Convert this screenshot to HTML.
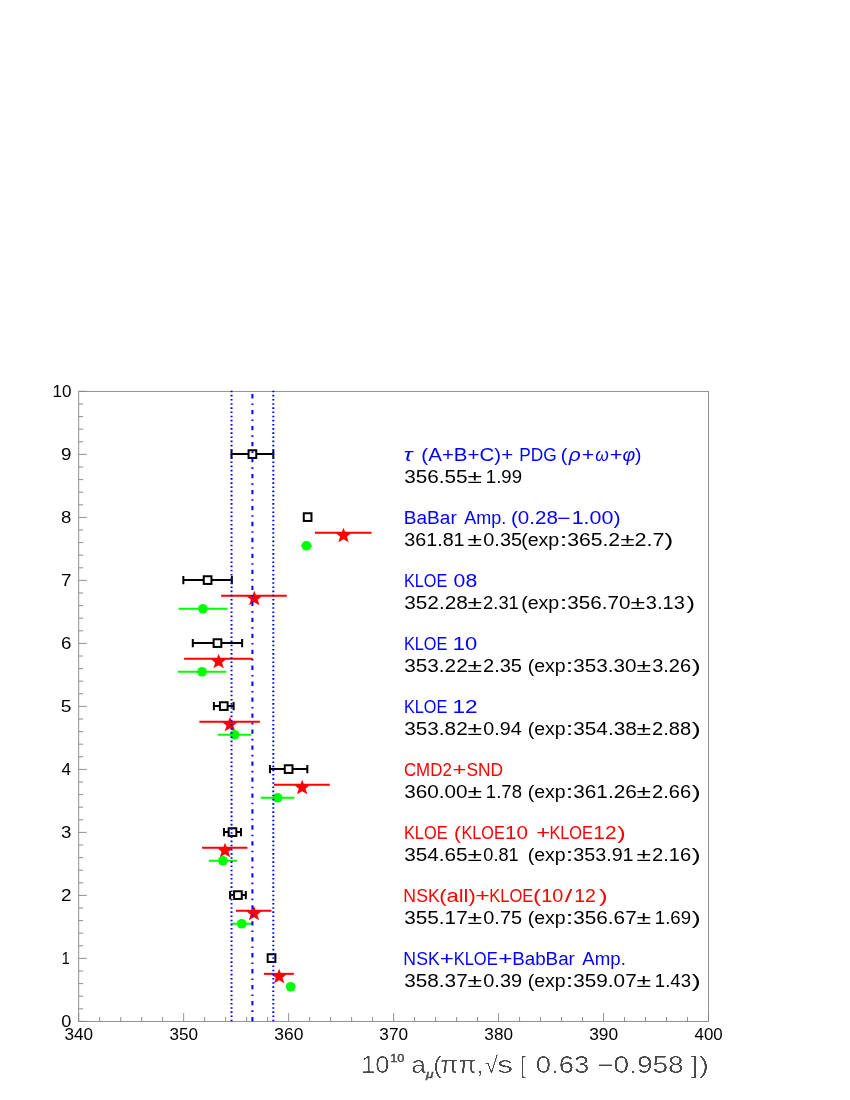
<!DOCTYPE html>
<html><head><meta charset="utf-8"><title>chart</title>
<style>html,body{margin:0;padding:0;background:#fff}svg{display:block;will-change:transform}text{font-family:"Liberation Sans",sans-serif}</style></head><body>
<svg width="850" height="1100" viewBox="0 0 850 1100">
<rect x="0" y="0" width="850" height="1100" fill="#fff"/>
<defs><filter id="thin" x="-5%" y="-20%" width="110%" height="140%"><feGaussianBlur stdDeviation="0.45"/><feComponentTransfer><feFuncA type="linear" slope="3.2" intercept="-1.75"/></feComponentTransfer></filter></defs>
<g stroke="#848484" stroke-width="0.9" fill="none">
<rect x="78.7" y="391.4" width="629.80" height="630.00"/>
<path d="M78.70 1021.4v-8.3 M99.69 1021.4v-4.4 M120.69 1021.4v-4.4 M141.68 1021.4v-4.4 M162.67 1021.4v-4.4 M183.67 1021.4v-8.3 M204.66 1021.4v-4.4 M225.65 1021.4v-4.4 M246.65 1021.4v-4.4 M267.64 1021.4v-4.4 M288.63 1021.4v-8.3 M309.63 1021.4v-4.4 M330.62 1021.4v-4.4 M351.61 1021.4v-4.4 M372.61 1021.4v-4.4 M393.60 1021.4v-8.3 M414.59 1021.4v-4.4 M435.59 1021.4v-4.4 M456.58 1021.4v-4.4 M477.57 1021.4v-4.4 M498.57 1021.4v-8.3 M519.56 1021.4v-4.4 M540.55 1021.4v-4.4 M561.55 1021.4v-4.4 M582.54 1021.4v-4.4 M603.53 1021.4v-8.3 M624.53 1021.4v-4.4 M645.52 1021.4v-4.4 M666.51 1021.4v-4.4 M687.51 1021.4v-4.4 M708.50 1021.4v-8.3 M78.7 1021.40h8.0 M78.7 1008.80h4.4 M78.7 996.20h4.4 M78.7 983.60h4.4 M78.7 971.00h4.4 M78.7 958.40h8.0 M78.7 945.80h4.4 M78.7 933.20h4.4 M78.7 920.60h4.4 M78.7 908.00h4.4 M78.7 895.40h8.0 M78.7 882.80h4.4 M78.7 870.20h4.4 M78.7 857.60h4.4 M78.7 845.00h4.4 M78.7 832.40h8.0 M78.7 819.80h4.4 M78.7 807.20h4.4 M78.7 794.60h4.4 M78.7 782.00h4.4 M78.7 769.40h8.0 M78.7 756.80h4.4 M78.7 744.20h4.4 M78.7 731.60h4.4 M78.7 719.00h4.4 M78.7 706.40h8.0 M78.7 693.80h4.4 M78.7 681.20h4.4 M78.7 668.60h4.4 M78.7 656.00h4.4 M78.7 643.40h8.0 M78.7 630.80h4.4 M78.7 618.20h4.4 M78.7 605.60h4.4 M78.7 593.00h4.4 M78.7 580.40h8.0 M78.7 567.80h4.4 M78.7 555.20h4.4 M78.7 542.60h4.4 M78.7 530.00h4.4 M78.7 517.40h8.0 M78.7 504.80h4.4 M78.7 492.20h4.4 M78.7 479.60h4.4 M78.7 467.00h4.4 M78.7 454.40h8.0 M78.7 441.80h4.4 M78.7 429.20h4.4 M78.7 416.60h4.4 M78.7 404.00h4.4 M78.7 391.40h8.0"/>
</g>
<g stroke="#000" stroke-width="2" fill="none">
<path d="M231.53 454.10H248.17M256.67 454.10H273.31M231.53 449.90v8.4M273.31 449.90v8.4"/>
<rect x="248.57" y="450.25" width="7.7" height="7.7"/>
<rect x="303.78" y="513.25" width="7.7" height="7.7"/>
<path d="M183.35 580.10H203.35M211.85 580.10H231.85M183.35 575.90v8.4M231.85 575.90v8.4"/>
<rect x="203.75" y="576.25" width="7.7" height="7.7"/>
<path d="M192.80 643.10H213.22M221.72 643.10H242.13M192.80 638.90v8.4M242.13 638.90v8.4"/>
<rect x="213.62" y="639.25" width="7.7" height="7.7"/>
<path d="M213.90 706.10H219.51M228.01 706.10H233.63M213.90 701.90v8.4M233.63 701.90v8.4"/>
<rect x="219.91" y="702.25" width="7.7" height="7.7"/>
<path d="M269.95 769.10H284.38M292.88 769.10H307.32M269.95 764.90v8.4M307.32 764.90v8.4"/>
<rect x="284.78" y="765.25" width="7.7" height="7.7"/>
<path d="M223.97 832.10H228.23M236.73 832.10H240.98M223.97 827.90v8.4M240.98 827.90v8.4"/>
<rect x="228.63" y="828.25" width="7.7" height="7.7"/>
<path d="M230.06 895.10H233.68M242.18 895.10H245.81M230.06 890.90v8.4M245.81 890.90v8.4"/>
<rect x="234.08" y="891.25" width="7.7" height="7.7"/>
<rect x="267.67" y="954.25" width="7.7" height="7.7"/>
</g>
<g stroke="#ff0000" stroke-width="2" fill="#ff0000">
<line x1="314.87" y1="532.85" x2="371.56" y2="532.85"/>
<polygon points="343.52,527.85 345.42,532.85 351.02,533.25 346.92,536.85 348.72,542.15 343.52,539.15 338.32,542.15 340.12,536.85 336.02,533.25 341.62,532.85" stroke="none"/>
<line x1="221.14" y1="595.85" x2="286.85" y2="595.85"/>
<polygon points="254.29,590.85 256.19,595.85 261.79,596.25 257.69,599.85 259.49,605.15 254.29,602.15 249.09,605.15 250.89,599.85 246.79,596.25 252.39,595.85" stroke="none"/>
<line x1="184.09" y1="658.85" x2="252.52" y2="658.85"/>
<polygon points="218.61,653.85 220.51,658.85 226.11,659.25 222.01,662.85 223.81,668.15 218.61,665.15 213.41,668.15 215.21,662.85 211.11,659.25 216.71,658.85" stroke="none"/>
<line x1="199.41" y1="721.85" x2="259.87" y2="721.85"/>
<polygon points="229.94,716.85 231.84,721.85 237.44,722.25 233.34,725.85 235.14,731.15 229.94,728.15 224.74,731.15 226.54,725.85 222.44,722.25 228.04,721.85" stroke="none"/>
<line x1="273.94" y1="784.85" x2="329.78" y2="784.85"/>
<polygon points="302.16,779.85 304.06,784.85 309.66,785.25 305.56,788.85 307.36,794.15 302.16,791.15 296.96,794.15 298.76,788.85 294.66,785.25 300.26,784.85" stroke="none"/>
<line x1="202.04" y1="847.85" x2="247.38" y2="847.85"/>
<polygon points="225.01,842.85 226.91,847.85 232.51,848.25 228.41,851.85 230.21,857.15 225.01,854.15 219.81,857.15 221.61,851.85 217.51,848.25 223.11,847.85" stroke="none"/>
<line x1="235.94" y1="910.85" x2="271.42" y2="910.85"/>
<polygon points="253.98,905.85 255.88,910.85 261.48,911.25 257.38,914.85 259.18,920.15 253.98,917.15 248.78,920.15 250.58,914.85 246.48,911.25 252.08,910.85" stroke="none"/>
<line x1="263.86" y1="973.85" x2="293.88" y2="973.85"/>
<polygon points="279.17,968.85 281.07,973.85 286.67,974.25 282.57,977.85 284.37,983.15 279.17,980.15 273.97,983.15 275.77,977.85 271.67,974.25 277.27,973.85" stroke="none"/>
</g>
<g stroke="#00ff00" stroke-width="2" fill="#00ff00">
<line x1="301.23" y1="545.75" x2="311.73" y2="545.75"/>
<circle cx="306.48" cy="545.75" r="4.85" stroke="none"/>
<line x1="178.52" y1="608.75" x2="227.44" y2="608.75"/>
<circle cx="202.98" cy="608.75" r="4.85" stroke="none"/>
<line x1="177.79" y1="671.75" x2="226.28" y2="671.75"/>
<circle cx="202.04" cy="671.75" r="4.85" stroke="none"/>
<line x1="217.78" y1="734.75" x2="251.37" y2="734.75"/>
<circle cx="234.58" cy="734.75" r="4.85" stroke="none"/>
<line x1="260.71" y1="797.75" x2="294.51" y2="797.75"/>
<circle cx="277.61" cy="797.75" r="4.85" stroke="none"/>
<line x1="208.86" y1="860.75" x2="236.99" y2="860.75"/>
<circle cx="222.92" cy="860.75" r="4.85" stroke="none"/>
<line x1="231.22" y1="923.75" x2="252.21" y2="923.75"/>
<circle cx="241.71" cy="923.75" r="4.85" stroke="none"/>
<line x1="287.58" y1="986.75" x2="293.88" y2="986.75"/>
<circle cx="290.73" cy="986.75" r="4.85" stroke="none"/>
</g>
<line x1="231.53" y1="1021.4" x2="231.53" y2="390.59999999999997" stroke="#0000ff" stroke-width="2" stroke-dasharray="1.6 2.5657" stroke-dashoffset="4.02"/>
<line x1="273.31" y1="1021.4" x2="273.31" y2="390.59999999999997" stroke="#0000ff" stroke-width="2" stroke-dasharray="1.6 2.5657" stroke-dashoffset="4.02"/>
<line x1="252.42" y1="1021.4" x2="252.42" y2="390.59999999999997" stroke="#0000ff" stroke-width="2" stroke-dasharray="4.3 5.036 1.6 5.036" stroke-dashoffset="-0.1"/>
<text fill="#0000ff">
<tspan x="403.88" y="460.7" font-size="17.6" textLength="8.76" lengthAdjust="spacingAndGlyphs" font-style="italic">τ</tspan> <tspan x="421.37" y="460.7" font-size="17.6" textLength="91.80" lengthAdjust="spacingAndGlyphs">(A+B+C)+</tspan> <tspan x="519.19" y="460.7" font-size="17.6" textLength="37.46" lengthAdjust="spacingAndGlyphs">PDG</tspan> <tspan x="560.89" y="460.7" font-size="17.6" textLength="6.47" lengthAdjust="spacingAndGlyphs">(</tspan><tspan x="568.85" y="460.7" font-size="17.6" textLength="11.95" lengthAdjust="spacingAndGlyphs" font-style="italic">ρ</tspan><tspan x="581.79" y="460.7" font-size="17.6" textLength="12.53" lengthAdjust="spacingAndGlyphs">+</tspan><tspan x="595.37" y="460.7" font-size="17.6" textLength="13.55" lengthAdjust="spacingAndGlyphs" font-style="italic">ω</tspan><tspan x="609.87" y="460.7" font-size="17.6" textLength="12.74" lengthAdjust="spacingAndGlyphs">+</tspan><tspan x="622.50" y="460.7" font-size="17.6" textLength="12.77" lengthAdjust="spacingAndGlyphs" font-style="italic">φ</tspan><tspan x="634.95" y="460.7" font-size="17.6" textLength="6.45" lengthAdjust="spacingAndGlyphs">)</tspan>
</text>
<text fill="#000000">
<tspan x="404.27" y="482.8" font-size="17.6" textLength="63.37" lengthAdjust="spacingAndGlyphs">356.55</tspan><tspan x="467.62" y="482.8" font-size="17.6" textLength="14.54" lengthAdjust="spacingAndGlyphs">±</tspan><tspan x="485.88" y="482.8" font-size="17.6" textLength="36.15" lengthAdjust="spacingAndGlyphs">1.99</tspan>
</text>
<text fill="#0000ff">
<tspan x="403.80" y="523.7" font-size="17.6" textLength="52.95" lengthAdjust="spacingAndGlyphs">BaBar</tspan> <tspan x="464.21" y="523.7" font-size="17.6" textLength="41.96" lengthAdjust="spacingAndGlyphs">Amp.</tspan> <tspan x="511.00" y="523.7" font-size="17.6" textLength="46.84" lengthAdjust="spacingAndGlyphs">(0.28</tspan><tspan x="557.00" y="523.7" font-size="17.6" textLength="13.50" lengthAdjust="spacingAndGlyphs">−</tspan><tspan x="571.65" y="523.7" font-size="17.6" textLength="48.91" lengthAdjust="spacingAndGlyphs">1.00)</tspan>
</text>
<text fill="#000000">
<tspan x="404.24" y="545.8" font-size="17.6" textLength="60.34" lengthAdjust="spacingAndGlyphs">361.81</tspan><tspan x="467.62" y="545.8" font-size="17.6" textLength="14.54" lengthAdjust="spacingAndGlyphs">±</tspan><tspan x="483.30" y="545.8" font-size="17.6" textLength="38.73" lengthAdjust="spacingAndGlyphs">0.35</tspan><tspan x="521.15" y="545.8" font-size="17.6" textLength="38.11" lengthAdjust="spacingAndGlyphs">(exp</tspan><tspan x="559.74" y="545.8" font-size="17.6" textLength="7.53" lengthAdjust="spacingAndGlyphs">:</tspan><tspan x="567.15" y="545.8" font-size="17.6" textLength="52.93" lengthAdjust="spacingAndGlyphs">365.2</tspan><tspan x="620.40" y="545.8" font-size="17.6" textLength="14.05" lengthAdjust="spacingAndGlyphs">±</tspan><tspan x="634.64" y="545.8" font-size="17.6" textLength="29.99" lengthAdjust="spacingAndGlyphs">2.7</tspan><tspan x="664.54" y="545.8" font-size="17.6" textLength="8.76" lengthAdjust="spacingAndGlyphs">)</tspan>
</text>
<text fill="#0000ff">
<tspan x="403.95" y="586.7" font-size="17.6" textLength="43.37" lengthAdjust="spacingAndGlyphs">KLOE</tspan> <tspan x="453.60" y="586.7" font-size="17.6" textLength="23.63" lengthAdjust="spacingAndGlyphs">08</tspan>
</text>
<text fill="#000000">
<tspan x="404.26" y="608.8" font-size="17.6" textLength="63.56" lengthAdjust="spacingAndGlyphs">352.28</tspan><tspan x="467.62" y="608.8" font-size="17.6" textLength="14.54" lengthAdjust="spacingAndGlyphs">±</tspan><tspan x="483.07" y="608.8" font-size="17.6" textLength="35.75" lengthAdjust="spacingAndGlyphs">2.31</tspan><tspan x="521.15" y="608.8" font-size="17.6" textLength="38.11" lengthAdjust="spacingAndGlyphs">(exp</tspan><tspan x="559.74" y="608.8" font-size="17.6" textLength="7.53" lengthAdjust="spacingAndGlyphs">:</tspan><tspan x="567.21" y="608.8" font-size="17.6" textLength="63.19" lengthAdjust="spacingAndGlyphs">356.70</tspan><tspan x="630.49" y="608.8" font-size="17.6" textLength="14.53" lengthAdjust="spacingAndGlyphs">±</tspan><tspan x="645.87" y="608.8" font-size="17.6" textLength="38.94" lengthAdjust="spacingAndGlyphs">3.13</tspan><tspan x="686.50" y="608.8" font-size="17.6" textLength="8.56" lengthAdjust="spacingAndGlyphs">)</tspan>
</text>
<text fill="#0000ff">
<tspan x="403.95" y="649.7" font-size="17.6" textLength="43.37" lengthAdjust="spacingAndGlyphs">KLOE</tspan> <tspan x="452.70" y="649.7" font-size="17.6" textLength="24.48" lengthAdjust="spacingAndGlyphs">10</tspan>
</text>
<text fill="#000000">
<tspan x="404.26" y="671.8" font-size="17.6" textLength="63.45" lengthAdjust="spacingAndGlyphs">353.22</tspan><tspan x="467.62" y="671.8" font-size="17.6" textLength="14.54" lengthAdjust="spacingAndGlyphs">±</tspan><tspan x="483.00" y="671.8" font-size="17.6" textLength="39.03" lengthAdjust="spacingAndGlyphs">2.35</tspan> <tspan x="527.81" y="671.8" font-size="17.6" textLength="37.92" lengthAdjust="spacingAndGlyphs">(exp</tspan><tspan x="565.85" y="671.8" font-size="17.6" textLength="7.52" lengthAdjust="spacingAndGlyphs">:</tspan><tspan x="573.27" y="671.8" font-size="17.6" textLength="63.27" lengthAdjust="spacingAndGlyphs">353.30</tspan><tspan x="636.62" y="671.8" font-size="17.6" textLength="14.54" lengthAdjust="spacingAndGlyphs">±</tspan><tspan x="652.16" y="671.8" font-size="17.6" textLength="38.94" lengthAdjust="spacingAndGlyphs">3.26</tspan><tspan x="691.78" y="671.8" font-size="17.6" textLength="8.98" lengthAdjust="spacingAndGlyphs">)</tspan>
</text>
<text fill="#0000ff">
<tspan x="403.95" y="712.7" font-size="17.6" textLength="43.37" lengthAdjust="spacingAndGlyphs">KLOE</tspan> <tspan x="452.58" y="712.7" font-size="17.6" textLength="25.10" lengthAdjust="spacingAndGlyphs">12</tspan>
</text>
<text fill="#000000">
<tspan x="404.26" y="734.8" font-size="17.6" textLength="63.45" lengthAdjust="spacingAndGlyphs">353.82</tspan><tspan x="467.62" y="734.8" font-size="17.6" textLength="14.54" lengthAdjust="spacingAndGlyphs">±</tspan><tspan x="483.34" y="734.8" font-size="17.6" textLength="38.38" lengthAdjust="spacingAndGlyphs">0.94</tspan> <tspan x="527.81" y="734.8" font-size="17.6" textLength="37.92" lengthAdjust="spacingAndGlyphs">(exp</tspan><tspan x="565.85" y="734.8" font-size="17.6" textLength="7.52" lengthAdjust="spacingAndGlyphs">:</tspan><tspan x="573.26" y="734.8" font-size="17.6" textLength="63.56" lengthAdjust="spacingAndGlyphs">354.38</tspan><tspan x="636.62" y="734.8" font-size="17.6" textLength="14.54" lengthAdjust="spacingAndGlyphs">±</tspan><tspan x="652.00" y="734.8" font-size="17.6" textLength="39.08" lengthAdjust="spacingAndGlyphs">2.88</tspan><tspan x="691.78" y="734.8" font-size="17.6" textLength="8.98" lengthAdjust="spacingAndGlyphs">)</tspan>
</text>
<text fill="#ff0000">
<tspan x="403.88" y="775.7" font-size="17.6" textLength="47.92" lengthAdjust="spacingAndGlyphs">CMD2</tspan><tspan x="452.53" y="775.7" font-size="17.6" textLength="13.79" lengthAdjust="spacingAndGlyphs">+</tspan><tspan x="466.48" y="775.7" font-size="17.6" textLength="36.64" lengthAdjust="spacingAndGlyphs">SND</tspan>
</text>
<text fill="#000000">
<tspan x="404.27" y="797.8" font-size="17.6" textLength="63.27" lengthAdjust="spacingAndGlyphs">360.00</tspan><tspan x="467.62" y="797.8" font-size="17.6" textLength="14.54" lengthAdjust="spacingAndGlyphs">±</tspan><tspan x="485.88" y="797.8" font-size="17.6" textLength="36.11" lengthAdjust="spacingAndGlyphs">1.78</tspan> <tspan x="527.81" y="797.8" font-size="17.6" textLength="37.92" lengthAdjust="spacingAndGlyphs">(exp</tspan><tspan x="565.85" y="797.8" font-size="17.6" textLength="7.52" lengthAdjust="spacingAndGlyphs">:</tspan><tspan x="573.27" y="797.8" font-size="17.6" textLength="63.50" lengthAdjust="spacingAndGlyphs">361.26</tspan><tspan x="636.62" y="797.8" font-size="17.6" textLength="14.54" lengthAdjust="spacingAndGlyphs">±</tspan><tspan x="652.00" y="797.8" font-size="17.6" textLength="39.09" lengthAdjust="spacingAndGlyphs">2.66</tspan><tspan x="691.78" y="797.8" font-size="17.6" textLength="8.98" lengthAdjust="spacingAndGlyphs">)</tspan>
</text>
<text fill="#ff0000">
<tspan x="403.94" y="838.7" font-size="17.6" textLength="43.71" lengthAdjust="spacingAndGlyphs">KLOE</tspan> <tspan x="454.09" y="838.7" font-size="17.6" textLength="6.85" lengthAdjust="spacingAndGlyphs">(</tspan><tspan x="461.52" y="838.7" font-size="17.6" textLength="43.30" lengthAdjust="spacingAndGlyphs">KLOE</tspan><tspan x="505.13" y="838.7" font-size="17.6" textLength="22.97" lengthAdjust="spacingAndGlyphs">10</tspan> <tspan x="536.28" y="838.7" font-size="17.6" textLength="13.76" lengthAdjust="spacingAndGlyphs">+</tspan><tspan x="549.45" y="838.7" font-size="17.6" textLength="43.39" lengthAdjust="spacingAndGlyphs">KLOE</tspan><tspan x="593.35" y="838.7" font-size="17.6" textLength="23.16" lengthAdjust="spacingAndGlyphs">12</tspan><tspan x="617.20" y="838.7" font-size="17.6" textLength="8.49" lengthAdjust="spacingAndGlyphs">)</tspan>
</text>
<text fill="#000000">
<tspan x="404.27" y="860.8" font-size="17.6" textLength="63.37" lengthAdjust="spacingAndGlyphs">354.65</tspan><tspan x="467.62" y="860.8" font-size="17.6" textLength="14.54" lengthAdjust="spacingAndGlyphs">±</tspan><tspan x="483.36" y="860.8" font-size="17.6" textLength="35.29" lengthAdjust="spacingAndGlyphs">0.81</tspan> <tspan x="527.81" y="860.8" font-size="17.6" textLength="37.92" lengthAdjust="spacingAndGlyphs">(exp</tspan><tspan x="565.85" y="860.8" font-size="17.6" textLength="7.52" lengthAdjust="spacingAndGlyphs">:</tspan><tspan x="573.24" y="860.8" font-size="17.6" textLength="60.34" lengthAdjust="spacingAndGlyphs">353.91</tspan><tspan x="636.62" y="860.8" font-size="17.6" textLength="14.54" lengthAdjust="spacingAndGlyphs">±</tspan><tspan x="652.00" y="860.8" font-size="17.6" textLength="39.09" lengthAdjust="spacingAndGlyphs">2.16</tspan><tspan x="691.78" y="860.8" font-size="17.6" textLength="8.98" lengthAdjust="spacingAndGlyphs">)</tspan>
</text>
<text fill="#ff0000">
<tspan x="403.36" y="901.7" font-size="17.6" textLength="36.37" lengthAdjust="spacingAndGlyphs">NSK</tspan><tspan x="439.16" y="901.7" font-size="17.6" textLength="36.64" lengthAdjust="spacingAndGlyphs">(all)</tspan><tspan x="475.33" y="901.7" font-size="17.6" textLength="14.60" lengthAdjust="spacingAndGlyphs">+</tspan><tspan x="489.31" y="901.7" font-size="17.6" textLength="44.09" lengthAdjust="spacingAndGlyphs">KLOE</tspan><tspan x="533.03" y="901.7" font-size="17.6" textLength="7.92" lengthAdjust="spacingAndGlyphs">(</tspan><tspan x="541.25" y="901.7" font-size="17.6" textLength="22.11" lengthAdjust="spacingAndGlyphs">10</tspan><tspan x="564.74" y="901.7" font-size="17.6" textLength="7.57" lengthAdjust="spacingAndGlyphs">/</tspan><tspan x="574.22" y="901.7" font-size="17.6" textLength="21.71" lengthAdjust="spacingAndGlyphs">12</tspan><tspan x="599.14" y="901.7" font-size="17.6" textLength="8.63" lengthAdjust="spacingAndGlyphs">)</tspan>
</text>
<text fill="#000000">
<tspan x="404.26" y="923.8" font-size="17.6" textLength="63.45" lengthAdjust="spacingAndGlyphs">355.17</tspan><tspan x="467.62" y="923.8" font-size="17.6" textLength="14.54" lengthAdjust="spacingAndGlyphs">±</tspan><tspan x="483.30" y="923.8" font-size="17.6" textLength="38.73" lengthAdjust="spacingAndGlyphs">0.75</tspan> <tspan x="527.81" y="923.8" font-size="17.6" textLength="37.92" lengthAdjust="spacingAndGlyphs">(exp</tspan><tspan x="565.85" y="923.8" font-size="17.6" textLength="7.52" lengthAdjust="spacingAndGlyphs">:</tspan><tspan x="573.26" y="923.8" font-size="17.6" textLength="63.45" lengthAdjust="spacingAndGlyphs">356.67</tspan><tspan x="636.62" y="923.8" font-size="17.6" textLength="14.54" lengthAdjust="spacingAndGlyphs">±</tspan><tspan x="654.88" y="923.8" font-size="17.6" textLength="36.15" lengthAdjust="spacingAndGlyphs">1.69</tspan><tspan x="691.78" y="923.8" font-size="17.6" textLength="8.98" lengthAdjust="spacingAndGlyphs">)</tspan>
</text>
<text fill="#0000ff">
<tspan x="403.36" y="964.7" font-size="17.6" textLength="36.37" lengthAdjust="spacingAndGlyphs">NSK</tspan><tspan x="439.82" y="964.7" font-size="17.6" textLength="14.11" lengthAdjust="spacingAndGlyphs">+</tspan><tspan x="453.64" y="964.7" font-size="17.6" textLength="44.04" lengthAdjust="spacingAndGlyphs">KLOE</tspan><tspan x="498.38" y="964.7" font-size="17.6" textLength="14.35" lengthAdjust="spacingAndGlyphs">+</tspan><tspan x="512.15" y="964.7" font-size="17.6" textLength="62.74" lengthAdjust="spacingAndGlyphs">BabBar</tspan> <tspan x="582.35" y="964.7" font-size="17.6" textLength="43.47" lengthAdjust="spacingAndGlyphs">Amp.</tspan>
</text>
<text fill="#000000">
<tspan x="404.26" y="986.8" font-size="17.6" textLength="63.45" lengthAdjust="spacingAndGlyphs">358.37</tspan><tspan x="467.62" y="986.8" font-size="17.6" textLength="14.54" lengthAdjust="spacingAndGlyphs">±</tspan><tspan x="483.29" y="986.8" font-size="17.6" textLength="38.83" lengthAdjust="spacingAndGlyphs">0.39</tspan> <tspan x="527.81" y="986.8" font-size="17.6" textLength="37.92" lengthAdjust="spacingAndGlyphs">(exp</tspan><tspan x="565.85" y="986.8" font-size="17.6" textLength="7.52" lengthAdjust="spacingAndGlyphs">:</tspan><tspan x="573.26" y="986.8" font-size="17.6" textLength="63.45" lengthAdjust="spacingAndGlyphs">359.07</tspan><tspan x="636.62" y="986.8" font-size="17.6" textLength="14.54" lengthAdjust="spacingAndGlyphs">±</tspan><tspan x="654.88" y="986.8" font-size="17.6" textLength="36.10" lengthAdjust="spacingAndGlyphs">1.43</tspan><tspan x="691.78" y="986.8" font-size="17.6" textLength="8.98" lengthAdjust="spacingAndGlyphs">)</tspan>
</text>
<text fill="#4a4a4a" filter="url(#thin)">
<tspan x="361.11" y="1072.7" font-size="23.6" textLength="28.49" lengthAdjust="spacingAndGlyphs">10</tspan> <tspan x="411.34" y="1072.7" font-size="23.6" textLength="14.63" lengthAdjust="spacingAndGlyphs">a</tspan> <tspan x="433.18" y="1072.7" font-size="23.6" textLength="8.27" lengthAdjust="spacingAndGlyphs">(</tspan><tspan x="440.36" y="1072.7" font-size="23.6" textLength="36.41" lengthAdjust="spacingAndGlyphs">ππ</tspan><tspan x="476.82" y="1072.7" font-size="23.6">,</tspan><tspan x="484.65" y="1072.7" font-size="23.6" textLength="13.32" lengthAdjust="spacingAndGlyphs">√</tspan><tspan x="497.22" y="1072.7" font-size="23.6" textLength="15.79" lengthAdjust="spacingAndGlyphs">s</tspan> <tspan x="520.25" y="1072.7" font-size="23.6" textLength="5.63" lengthAdjust="spacingAndGlyphs">[</tspan> <tspan x="535.83" y="1072.7" font-size="23.6" textLength="53.34" lengthAdjust="spacingAndGlyphs">0.63</tspan> <tspan x="597.22" y="1072.7" font-size="23.6" textLength="86.45" lengthAdjust="spacingAndGlyphs">−0.958</tspan> <tspan x="690.96" y="1072.7" font-size="23.6" textLength="7.08" lengthAdjust="spacingAndGlyphs">]</tspan><tspan x="699.22" y="1072.7" font-size="23.6" textLength="9.58" lengthAdjust="spacingAndGlyphs">)</tspan>
</text>
<text fill="#4a4a4a" stroke="#4a4a4a" stroke-width="0.45">
<tspan x="390.23" y="1062.3" font-size="10" textLength="14.05" lengthAdjust="spacingAndGlyphs">10</tspan><tspan x="426.00" y="1077.6" font-size="11" textLength="7.52" lengthAdjust="spacingAndGlyphs" font-style="italic">μ</tspan>
</text>
<text fill="#000000">
<tspan x="61.19" y="1026.6" font-size="15.8" textLength="10.05" lengthAdjust="spacingAndGlyphs">0</tspan>
</text>
<text fill="#000000">
<tspan x="61.82" y="963.6" font-size="15.8" textLength="7.99" lengthAdjust="spacingAndGlyphs">1</tspan>
</text>
<text fill="#000000">
<tspan x="61.04" y="900.6" font-size="15.8" textLength="10.48" lengthAdjust="spacingAndGlyphs">2</tspan>
</text>
<text fill="#000000">
<tspan x="61.03" y="837.6" font-size="15.8" textLength="10.39" lengthAdjust="spacingAndGlyphs">3</tspan>
</text>
<text fill="#000000">
<tspan x="61.50" y="774.6" font-size="15.8" textLength="9.52" lengthAdjust="spacingAndGlyphs">4</tspan>
</text>
<text fill="#000000">
<tspan x="60.81" y="711.6" font-size="15.8" textLength="10.66" lengthAdjust="spacingAndGlyphs">5</tspan>
</text>
<text fill="#000000">
<tspan x="61.00" y="648.6" font-size="15.8" textLength="10.43" lengthAdjust="spacingAndGlyphs">6</tspan>
</text>
<text fill="#000000">
<tspan x="61.02" y="585.6" font-size="15.8" textLength="10.48" lengthAdjust="spacingAndGlyphs">7</tspan>
</text>
<text fill="#000000">
<tspan x="61.12" y="522.6" font-size="15.8" textLength="10.39" lengthAdjust="spacingAndGlyphs">8</tspan>
</text>
<text fill="#000000">
<tspan x="61.03" y="459.6" font-size="15.8" textLength="10.47" lengthAdjust="spacingAndGlyphs">9</tspan>
</text>
<text fill="#000000">
<tspan x="52.59" y="396.6" font-size="15.8" textLength="18.91" lengthAdjust="spacingAndGlyphs">10</tspan>
</text>
<text fill="#000000">
<tspan x="64.41" y="1039.5" font-size="15.6" textLength="28.62" lengthAdjust="spacingAndGlyphs">340</tspan>
</text>
<text fill="#000000">
<tspan x="169.47" y="1039.5" font-size="15.6" textLength="28.60" lengthAdjust="spacingAndGlyphs">350</tspan>
</text>
<text fill="#000000">
<tspan x="274.25" y="1039.5" font-size="15.6" textLength="29.08" lengthAdjust="spacingAndGlyphs">360</tspan>
</text>
<text fill="#000000">
<tspan x="379.31" y="1039.5" font-size="15.6" textLength="28.76" lengthAdjust="spacingAndGlyphs">370</tspan>
</text>
<text fill="#000000">
<tspan x="484.37" y="1039.5" font-size="15.6" textLength="28.57" lengthAdjust="spacingAndGlyphs">380</tspan>
</text>
<text fill="#000000">
<tspan x="589.15" y="1039.5" font-size="15.6" textLength="28.93" lengthAdjust="spacingAndGlyphs">390</tspan>
</text>
<text fill="#000000">
<tspan x="694.62" y="1039.5" font-size="15.6" textLength="28.13" lengthAdjust="spacingAndGlyphs">400</tspan>
</text>
</svg></body></html>
